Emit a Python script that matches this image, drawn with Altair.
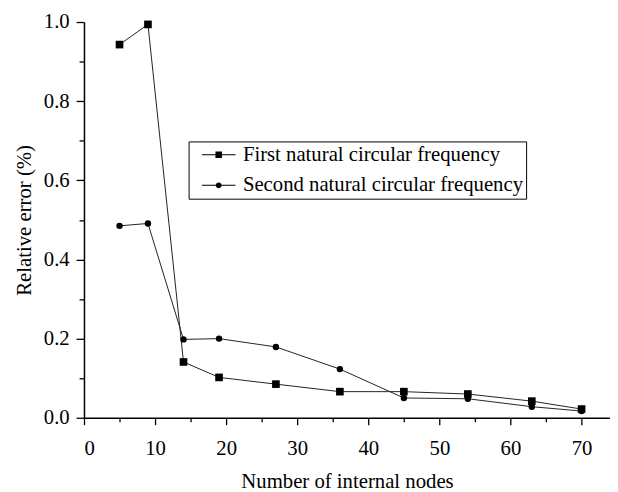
import altair as alt
import pandas as pd

# ---- data ----
nodes = [5, 9, 14, 19, 27, 36, 45, 54, 63, 70]
first_freq = [0.943, 0.994, 0.141, 0.102, 0.085, 0.066, 0.066, 0.060, 0.042, 0.022]
second_freq = [0.485, 0.491, 0.198, 0.200, 0.179, 0.123, 0.050, 0.048, 0.028, 0.017]
series_names = ["First natural circular frequency", "Second natural circular frequency"]

x_ticks = [0, 5, 10, 15, 20, 25, 30, 35, 40, 45, 50, 55, 60, 65, 70]
y_ticks = [0.0, 0.1, 0.2, 0.3, 0.4, 0.5, 0.6, 0.7, 0.8, 0.9, 1.0]

rows = []
for n, a, b in zip(nodes, first_freq, second_freq):
    rows.append({"nodes": n, "err": a, "series": series_names[0]})
    rows.append({"nodes": n, "err": b, "series": series_names[1]})
df = pd.DataFrame(rows)

FONT = "Liberation Serif"
FS = 21

xscale = alt.Scale(domain=[0, 74], nice=False, zero=False)
yscale = alt.Scale(domain=[0, 1], nice=False)

x_minor_test = "datum.value % 10 != 0"
y_minor_test = "round(datum.value * 10) % 2 == 1"

x_enc = alt.X("nodes:Q", scale=xscale,
              axis=alt.Axis(values=x_ticks, title="Number of internal nodes", grid=False,
                            labelExpr="datum.value % 10 == 0 ? datum.label : ''",
                            tickSize={"condition": {"test": x_minor_test, "value": 4}, "value": 7},
                            labelPadding=13, titlePadding=13,
                            domainColor="black", tickColor="black", domainWidth=1.5, tickWidth=1.3,
                            labelFont=FONT, labelFontSize=FS, labelColor="black",
                            titleFont=FONT, titleFontSize=FS, titleFontWeight="normal",
                            titleColor="black"))
y_enc = alt.Y("err:Q", scale=yscale,
              axis=alt.Axis(values=y_ticks, format=".1f", title="Relative error (%)", grid=False,
                            labelExpr="round(datum.value * 10) % 2 == 0 ? datum.label : ''",
                            tickSize={"condition": {"test": y_minor_test, "value": 5}, "value": 8},
                            labelPadding=7, titlePadding=9,
                            domainColor="black", tickColor="black", domainWidth=1.5, tickWidth=1.3,
                            labelFont=FONT, labelFontSize=FS, labelColor="black",
                            titleFont=FONT, titleFontSize=FS, titleFontWeight="normal",
                            titleColor="black"))

lines = alt.Chart(df).mark_line(color="#222222", strokeWidth=1).encode(
    x=x_enc, y=y_enc, detail="series:N")

pts1 = alt.Chart(df).transform_filter(alt.datum.series == series_names[0]).mark_point(
    shape="square", filled=True, color="black", size=60, opacity=1).encode(x=x_enc, y=y_enc)
pts2 = alt.Chart(df).transform_filter(alt.datum.series == series_names[1]).mark_point(
    shape="circle", filled=True, color="black", size=42, opacity=1).encode(x=x_enc, y=y_enc)

# legend glyphs "—■—" and "—●—" as custom symbol paths
sq_path = ("M0,-0.05L3.4,-0.05L3.4,0.05L0,0.05Z "
           "M1.37,-0.33L2.03,-0.33L2.03,0.33L1.37,0.33Z")
ci_path = ("M0,-0.05L3.4,-0.05L3.4,0.05L0,0.05Z "
           "M2.0,0A0.3,0.3 0 1,1 1.4,0A0.3,0.3 0 1,1 2.0,0Z")

SYM = 400
legend_layer = alt.Chart(df).transform_filter("false").mark_point(
    filled=True, color="black", size=SYM, opacity=1).encode(
    x=x_enc, y=y_enc,
    shape=alt.Shape("series:N",
                    scale=alt.Scale(domain=series_names, range=[sq_path, ci_path]),
                    legend=alt.Legend(title=None, orient="none", legendX=106, legendY=121,
                                      strokeColor="black", fillColor="white", padding=3,
                                      labelFont=FONT, labelFontSize=FS, labelColor="black",
                                      labelOffset=31, rowPadding=9, symbolSize=SYM,
                                      symbolStrokeWidth=0, symbolFillColor="black",
                                      labelLimit=400)))

chart = alt.layer(lines, pts1, pts2, legend_layer).properties(
    width=533, height=401,
    autosize=alt.AutoSizeParams(type="none"),
    padding={"left": 77, "top": 11, "right": 0, "bottom": 72},
).configure_view(stroke=None)

chart.save("out.html", embed_options={"renderer": "svg", "actions": False})
